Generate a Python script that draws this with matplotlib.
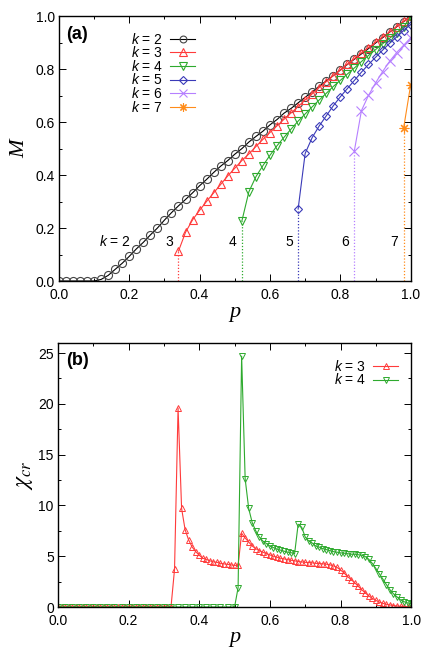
import numpy as np
import matplotlib
matplotlib.use('Agg')
import matplotlib.pyplot as plt
from matplotlib.ticker import MultipleLocator

plt.rcParams['font.family'] = ['Liberation Sans', 'DejaVu Sans']
plt.rcParams['mathtext.fontset'] = 'custom'
plt.rcParams['mathtext.it'] = 'Liberation Sans:italic'
plt.rcParams['mathtext.rm'] = 'Liberation Sans'

# ---- panel (a): M vs p, step 0.02 ----
p2 = np.round(np.arange(0, 51) * 0.02, 2)
M2 = [0.0, 0.0, 0.0, 0.0, 0.0, 0.0, 0.006, 0.021, 0.044, 0.067,
      0.093, 0.121, 0.146, 0.174, 0.200, 0.230, 0.258, 0.284, 0.308, 0.333,
      0.360, 0.384, 0.410, 0.434, 0.455, 0.479, 0.500, 0.525, 0.546, 0.566,
      0.590, 0.610, 0.634, 0.652, 0.673, 0.694, 0.714, 0.736, 0.756, 0.776,
      0.797, 0.818, 0.838, 0.858, 0.878, 0.899, 0.919, 0.940, 0.960, 0.980,
      1.0]

p3 = np.round(np.arange(17, 51) * 0.02, 2)
M3 = [0.113, 0.184, 0.231, 0.267, 0.301, 0.333, 0.365, 0.397, 0.426, 0.455,
      0.480, 0.508, 0.535, 0.561, 0.586, 0.611, 0.635, 0.659, 0.684, 0.707,
      0.731, 0.753, 0.776, 0.797, 0.819, 0.840, 0.862, 0.882, 0.902, 0.922,
      0.941, 0.961, 0.981, 1.0]

p4 = np.round(np.arange(26, 51) * 0.02, 2)
M4 = [0.226, 0.337, 0.394, 0.436, 0.475, 0.511, 0.543, 0.574, 0.604, 0.631,
      0.658, 0.684, 0.709, 0.735, 0.758, 0.782, 0.805, 0.829, 0.852, 0.874,
      0.896, 0.917, 0.938, 0.960, 0.997]

p5 = np.round(np.arange(34, 51) * 0.02, 2)
M5 = [0.272, 0.482, 0.542, 0.586, 0.624, 0.662, 0.696, 0.727, 0.758, 0.789,
      0.818, 0.845, 0.872, 0.898, 0.922, 0.946, 0.969]

p6 = np.round(np.arange(42, 51) * 0.02, 2)
M6 = [0.493, 0.644, 0.701, 0.748, 0.791, 0.830, 0.863, 0.891, 0.919]

p7 = [0.98, 1.0]
M7 = [0.579, 0.742]

# ---- panel (b): chi_cr vs p ----
pb3 = np.round(np.arange(0, 101) * 0.01, 2)
chi3 = [0.0] * 33 + [
    3.7, 19.6, 9.7, 7.6, 6.6, 5.9, 5.45, 5.1, 4.8, 4.7,
    4.55, 4.45, 4.4, 4.3, 4.25, 4.2, 4.15, 4.1, 4.1,
    7.25, 6.8, 6.4, 6.0, 5.75, 5.55, 5.4, 5.26, 5.13, 5.0,
    4.9, 4.8, 4.74, 4.67, 4.6, 4.55, 4.48, 4.44, 4.4, 4.38,
    4.35, 4.3, 4.28, 4.25, 4.22, 4.15, 4.05, 3.9, 3.65, 3.35,
    3.0, 2.7, 2.4, 2.05, 1.7, 1.4, 1.1, 0.85, 0.65, 0.48,
    0.36, 0.27, 0.2, 0.14, 0.1, 0.07, 0.04, 0.02, 0.01]

pb4 = np.concatenate([np.round(np.arange(0, 26) * 0.02, 2),
                      np.round(np.arange(51, 101) * 0.01, 2)])
chi4 = [0.0] * 26 + [
    1.9, 24.7, 12.6, 9.7, 8.3, 7.5, 6.9, 6.5, 6.25, 6.0,
    5.85, 5.7, 5.6, 5.5, 5.4, 5.35, 5.25, 8.15, 7.85, 6.9,
    6.5, 6.3, 6.0, 5.9, 5.75, 5.65, 5.55, 5.45, 5.4, 5.33,
    5.3, 5.25, 5.2, 5.2, 5.15, 5.1, 4.97, 4.7, 4.3, 3.8,
    3.27, 2.75, 2.2, 1.7, 1.3, 1.0, 0.7, 0.52, 0.4, 0.33]

ks = [2, 3, 4, 5, 6, 7]
colors = ['#444444', '#ff3b3b', '#2eaa2e', '#3a3ab8', '#b680ff', '#ff8c1a']
linecols = ['#000000', '#ff3b3b', '#2eaa2e', '#3a3ab8', '#b680ff', '#ff8c1a']
markers = ['o', '^', 'v', 'D', 'x', (8, 2, 0)]
msizes = [5.8, 6, 6, 4.5, 6.5, 7]
pdata = [p2, p3, p4, p5, p6, p7]
mdata = [M2, M3, M4, M5, M6, M7]

fig = plt.figure(figsize=(4.36, 6.52), dpi=100)
ax1 = fig.add_axes([0.135, 0.569, 0.807, 0.406])
ax2 = fig.add_axes([0.133, 0.069, 0.810, 0.405])

for k, c, lc, mk, ms, px, mv in zip(ks, colors, linecols, markers, msizes, pdata, mdata):
    ax1.plot(px, mv, color=lc, lw=0.8, marker=mk, ms=ms, mfc='none', mec=c,
             mew=0.8, label='$k$ = %d' % k)
    if k > 2:
        ax1.plot([px[0], px[0]], [0, mv[0]], color=c, lw=0.9, ls=(0, (1, 1.5)))

# k labels near each transition
ax1.text(0.205, 0.148, '$k$ = 2', ha='right', va='center', fontsize=10)
for k, px in zip(ks[1:], pdata[1:]):
    ax1.text(px[0] - 0.015, 0.148, str(k), ha='right', va='center', fontsize=10)

ax1.set_xlim(0, 1)
ax1.set_ylim(0, 1)
ax1.xaxis.set_minor_locator(MultipleLocator(0.1))
ax1.yaxis.set_minor_locator(MultipleLocator(0.1))
ax1.set_xticks([0, 0.2, 0.4, 0.6, 0.8, 1.0])
ax1.set_xticklabels(['0.0', '0.2', '0.4', '0.6', '0.8', '1.0'])
ax1.set_yticks([0, 0.2, 0.4, 0.6, 0.8, 1.0])
ax1.set_yticklabels(['0.0', '0.2', '0.4', '0.6', '0.8', '1.0'])
ax1.set_xlabel('p', family='Liberation Serif', style='italic', fontsize=16, labelpad=1)
ax1.set_ylabel('M', family='Liberation Serif', style='italic', fontsize=16, labelpad=4)
ax1.text(0.022, 0.965, '(a)', transform=ax1.transAxes, fontsize=13,
         fontweight='bold', ha='left', va='top')
ax1.legend(loc='upper left', bbox_to_anchor=(0.205, 0.942), frameon=False,
           markerfirst=False, fontsize=10, handlelength=1.8, handletextpad=0.5,
           labelspacing=-0.1, borderpad=0, borderaxespad=0, markerscale=0.85)

ax2.plot(pb3, chi3, color='#ff3b3b', lw=0.8, marker='^', ms=5, mfc='none',
         mec='#ff3b3b', mew=0.7, label='$k$ = 3')
ax2.plot(pb4, chi4, color='#2eaa2e', lw=0.8, marker='v', ms=5, mfc='none',
         mec='#2eaa2e', mew=0.7, label='$k$ = 4')
ax2.set_xlim(0, 1)
ax2.set_ylim(0, 26)
ax2.set_xticks([0, 0.2, 0.4, 0.6, 0.8, 1.0])
ax2.set_xticklabels(['0.0', '0.2', '0.4', '0.6', '0.8', '1.0'])
ax2.xaxis.set_minor_locator(MultipleLocator(0.1))
ax2.yaxis.set_major_locator(MultipleLocator(5))
ax2.yaxis.set_minor_locator(MultipleLocator(2.5))
ax2.set_xlabel('p', family='Liberation Serif', style='italic', fontsize=16, labelpad=0)
ax2.set_ylabel(r'$\chi_{cr}$', fontsize=17, math_fontfamily='stix', labelpad=2)
ax2.text(0.022, 0.965, '(b)', transform=ax2.transAxes, fontsize=13,
         fontweight='bold', ha='left', va='top')
ax2.legend(loc='upper right', bbox_to_anchor=(0.963, 0.94), frameon=False,
           markerfirst=False, fontsize=10, handlelength=1.8, handletextpad=0.5,
           labelspacing=-0.1, borderpad=0, borderaxespad=0)

for ax in (ax1, ax2):
    ax.tick_params(which='both', direction='in', top=True, right=True,
                   labelsize=10, pad=3)
    ax.tick_params(which='major', length=5, width=0.7)
    ax.tick_params(which='minor', length=2.5, width=0.7)
    ax.tick_params(axis='x', which='major', pad=5)
    for s in ax.spines.values():
        s.set_linewidth(1.0)

fig.savefig('out.png', dpi=100)
